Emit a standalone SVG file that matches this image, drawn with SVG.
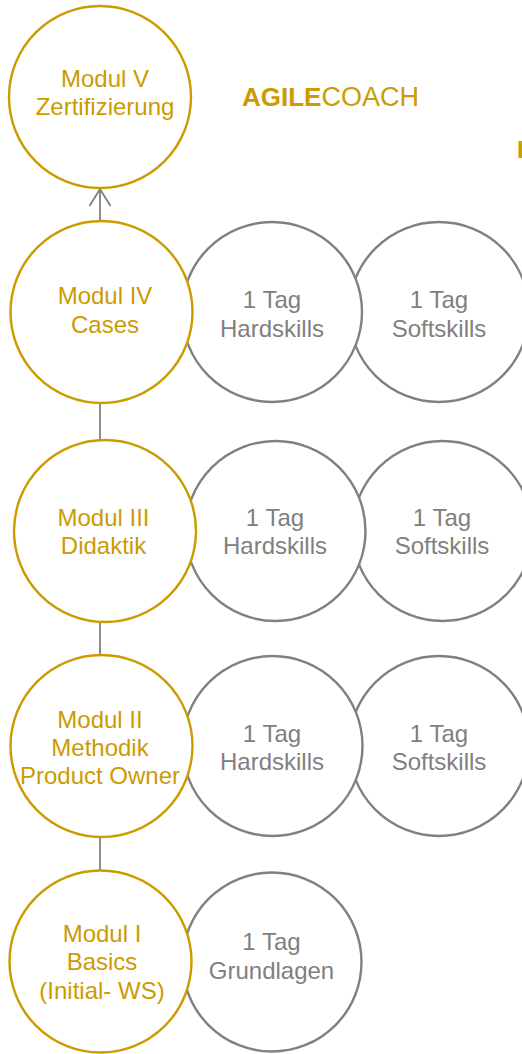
<svg xmlns="http://www.w3.org/2000/svg" width="522" height="1054" viewBox="0 0 522 1054">
<style>
.gold{fill:#fff;stroke:#CC9B00;stroke-width:2.4}
.grey{fill:#fff;stroke:#808080;stroke-width:2.4}
.gt{fill:#CC9B00;font-family:"Liberation Sans",Arial,sans-serif;font-size:24px;text-anchor:middle}
.rt{fill:#808080;font-family:"Liberation Sans",Arial,sans-serif;font-size:24px;text-anchor:middle}
.con{stroke:#808080;stroke-width:1.8;fill:none}
</style>
<rect width="522" height="1054" fill="#fff"/>
<g id="connectors">
<line class="con" x1="100" y1="222" x2="100" y2="189"/>
<polyline class="con" points="89.5,206 100,189 110.5,206"/>
<line class="con" x1="100" y1="403" x2="100" y2="441"/>
<line class="con" x1="100" y1="622" x2="100" y2="655"/>
<line class="con" x1="100" y1="837" x2="100" y2="871"/>
</g>
<g id="title">
<text x="242" y="105.5" style="fill:#CC9B00;font-family:'Liberation Sans',Arial,sans-serif;font-size:26px"><tspan font-weight="bold">AGILE</tspan><tspan font-size="27">COACH</tspan></text>
<text x="517" y="158" style="fill:#CC9B00;font-family:'Liberation Sans',Arial,sans-serif;font-size:24px;font-weight:bold">I</text>
</g>
<g id="modul5">
<circle class="gold" cx="100" cy="97" r="91"/>
<text class="gt" x="105" y="87">Modul V</text>
<text class="gt" x="105" y="115">Zertifizierung</text>
</g>
<g id="row4-soft">
<circle class="grey" cx="439" cy="312" r="90"/>
<text class="rt" x="439" y="308">1 Tag</text>
<text class="rt" x="439" y="336.5">Softskills</text>
</g>
<g id="row4-hard">
<circle class="grey" cx="272" cy="312" r="90"/>
<text class="rt" x="272" y="308">1 Tag</text>
<text class="rt" x="272" y="336.5">Hardskills</text>
</g>
<g id="modul4">
<circle class="gold" cx="101.5" cy="312" r="91"/>
<text class="gt" x="105" y="304">Modul IV</text>
<text class="gt" x="105" y="333">Cases</text>
</g>
<g id="row3-soft">
<circle class="grey" cx="442.5" cy="531" r="90"/>
<text class="rt" x="442" y="526">1 Tag</text>
<text class="rt" x="442" y="554">Softskills</text>
</g>
<g id="row3-hard">
<circle class="grey" cx="275.5" cy="531" r="90"/>
<text class="rt" x="275" y="526">1 Tag</text>
<text class="rt" x="275" y="554">Hardskills</text>
</g>
<g id="modul3">
<circle class="gold" cx="105" cy="531" r="91"/>
<text class="gt" x="103.5" y="526">Modul III</text>
<text class="gt" x="103.5" y="554">Didaktik</text>
</g>
<g id="row2-soft">
<circle class="grey" cx="439" cy="746" r="90"/>
<text class="rt" x="439" y="742">1 Tag</text>
<text class="rt" x="439" y="770">Softskills</text>
</g>
<g id="row2-hard">
<circle class="grey" cx="272.5" cy="746" r="90"/>
<text class="rt" x="272" y="742">1 Tag</text>
<text class="rt" x="272" y="770">Hardskills</text>
</g>
<g id="modul2">
<circle class="gold" cx="101.5" cy="746" r="91"/>
<text class="gt" x="100" y="727.5">Modul II</text>
<text class="gt" x="100" y="755.5">Methodik</text>
<text class="gt" x="100" y="784">Product Owner</text>
</g>
<g id="row1-basic">
<circle class="grey" cx="272" cy="962" r="89.5"/>
<text class="rt" x="271.5" y="950">1 Tag</text>
<text class="rt" x="271.5" y="978.5">Grundlagen</text>
</g>
<g id="modul1">
<circle class="gold" cx="100.5" cy="961.5" r="91"/>
<text class="gt" x="102" y="942">Modul I</text>
<text class="gt" x="102" y="970">Basics</text>
<text class="gt" x="102" y="999">(Initial- WS)</text>
</g>
</svg>
